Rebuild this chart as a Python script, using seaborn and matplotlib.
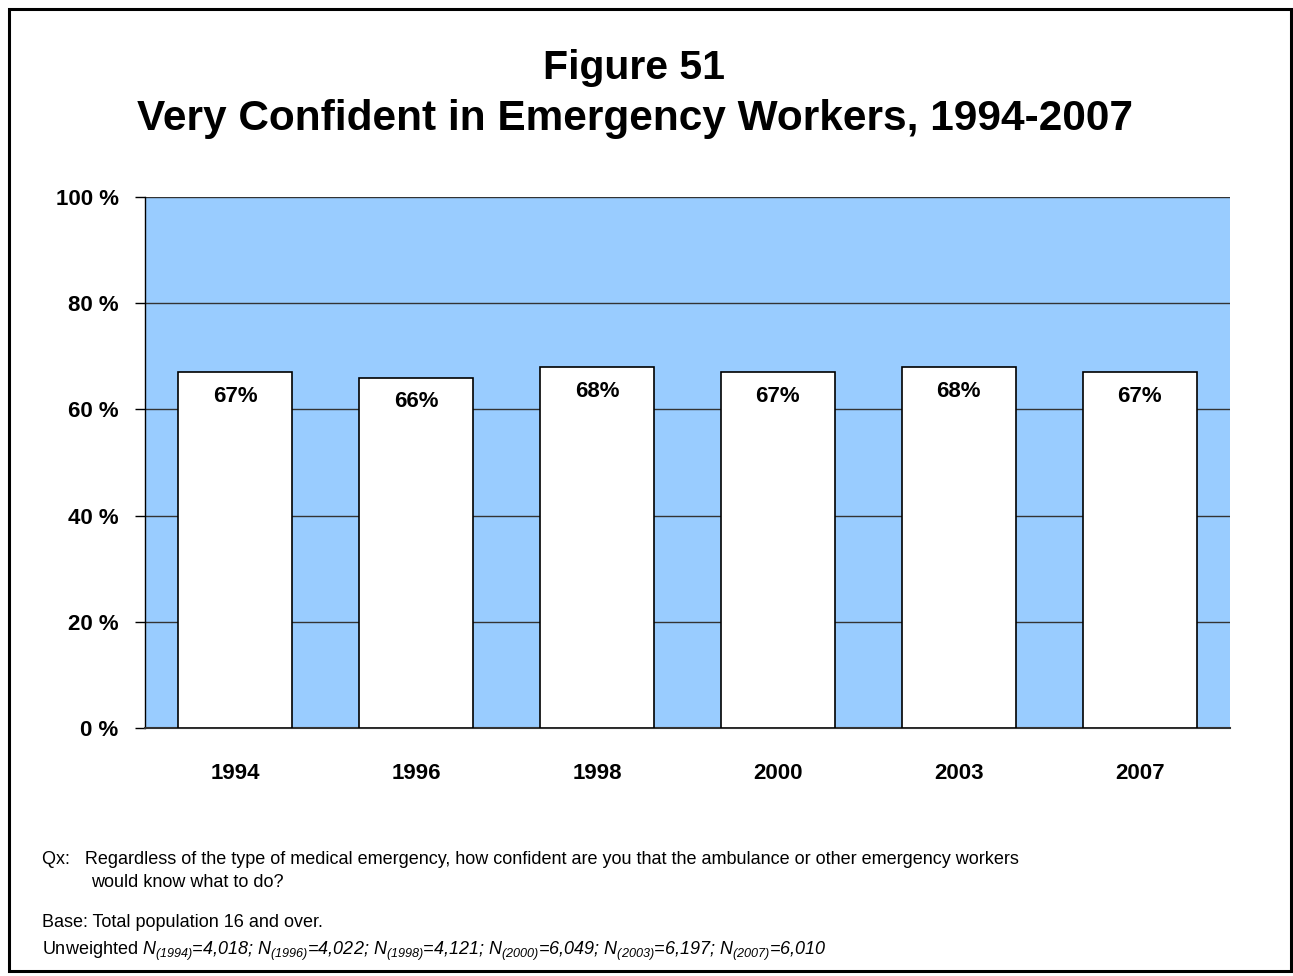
import matplotlib
matplotlib.use("Agg")
import matplotlib.pyplot as plt
from matplotlib.patches import Rectangle
import seaborn as sns
import pandas as pd

years = ["1994", "1996", "1998", "2000", "2003", "2007"]
values = [67, 66, 68, 67, 68, 67]
y_ticks = [0, 20, 40, 60, 80, 100]
y_tick_labels = ["0 %", "20 %", "40 %", "60 %", "80 %", "100 %"]
title_lines = ["Figure 51", "Very Confident in Emergency Workers, 1994-2007"]
note_question = [
    "Qx:   Regardless of the type of medical emergency, how confident are you that the ambulance or other emergency workers",
    "would know what to do?",
]
note_base = "Base: Total population 16 and over."
sample_years = ["1994", "1996", "1998", "2000", "2003", "2007"]
sample_sizes = ["4,018", "4,022", "4,121", "6,049", "6,197", "6,010"]

sns.set_theme(style="white")
plt.rcParams["font.family"] = ["Liberation Sans", "DejaVu Sans"]
plt.rcParams["text.color"] = "black"
plt.rcParams["xtick.color"] = "black"
plt.rcParams["ytick.color"] = "black"
plt.rcParams["mathtext.fontset"] = "custom"
plt.rcParams["mathtext.rm"] = "Liberation Sans:italic"
plt.rcParams["mathtext.it"] = "Liberation Sans:italic"

df = pd.DataFrame({"year": years, "pct": values})

fig = plt.figure(figsize=(12.93, 9.76), dpi=100)
W, H = 1293, 976
ax = fig.add_axes([145 / W, 1 - 728 / H, (1230 - 145) / W, (728 - 197) / H])
ax.set_facecolor("#99CCFF")

ax.set_axisbelow(True)
ax.yaxis.grid(True, color="#333333", linewidth=1.0)
ax.xaxis.grid(False)

sns.barplot(data=df, x="year", y="pct", color="white", edgecolor="black",
            linewidth=1.2, width=0.63, saturation=1, ax=ax, zorder=3)

# value labels sit just inside the top of each bar
for i, v in enumerate(values):
    ax.text(i, v - 4.6, f"{v}%", ha="center", va="center",
            fontsize=16, fontweight="bold", color="black", zorder=4)

ax.set_ylim(0, 100)
ax.set_xlim(-0.5, len(years) - 0.5)
ax.set_yticks(y_ticks)
ax.set_yticklabels(y_tick_labels, fontsize=16, fontweight="bold")
ax.tick_params(axis="y", which="major", left=True, length=7, width=1, color="black", pad=12)
ax.tick_params(axis="x", which="major", bottom=False, pad=19.5)
for lbl in ax.get_xticklabels():
    lbl.set_fontsize(16)
    lbl.set_fontweight("bold")
ax.set_xlabel("")
ax.set_ylabel("")

for side in ["top", "right"]:
    ax.spines[side].set_visible(False)
ax.spines["left"].set_color("black")
ax.spines["left"].set_linewidth(1.0)
ax.spines["bottom"].set_color("#333333")
ax.spines["bottom"].set_linewidth(1.5)

fig.text(634 / W, 1 - 79 / H, title_lines[0], ha="center", va="baseline",
         fontsize=29.5, fontweight="bold")
fig.text(635 / W, 1 - 130 / H, title_lines[1], ha="center", va="baseline",
         fontsize=30.5, fontweight="bold")

note_font = dict(fontsize=13)
fig.text(42 / W, 1 - 864 / H, note_question[0], ha="left", va="baseline", **note_font)
fig.text(91 / W, 1 - 887 / H, note_question[1], ha="left", va="baseline", **note_font)
fig.text(42 / W, 1 - 927 / H, note_base, ha="left", va="baseline", **note_font)

parts = [r"N_{(%s)}\text{=%s; }" % (y, n) for y, n in zip(sample_years, sample_sizes)]
sample_text = "Unweighted " + "$" + "".join(parts) + "$"
sample_text = sample_text.replace(r"; }$", r"}$")
fig.text(42 / W, 1 - 955 / H, sample_text, ha="left", va="baseline", **note_font)

fig.patches.append(Rectangle((8.5 / W, 1 - 971 / H), (1291 - 8.5) / W, (971 - 8.5) / H,
                             transform=fig.transFigure, fill=False,
                             edgecolor="black", linewidth=2.2, zorder=10))

fig.savefig("out.png", dpi=100)
